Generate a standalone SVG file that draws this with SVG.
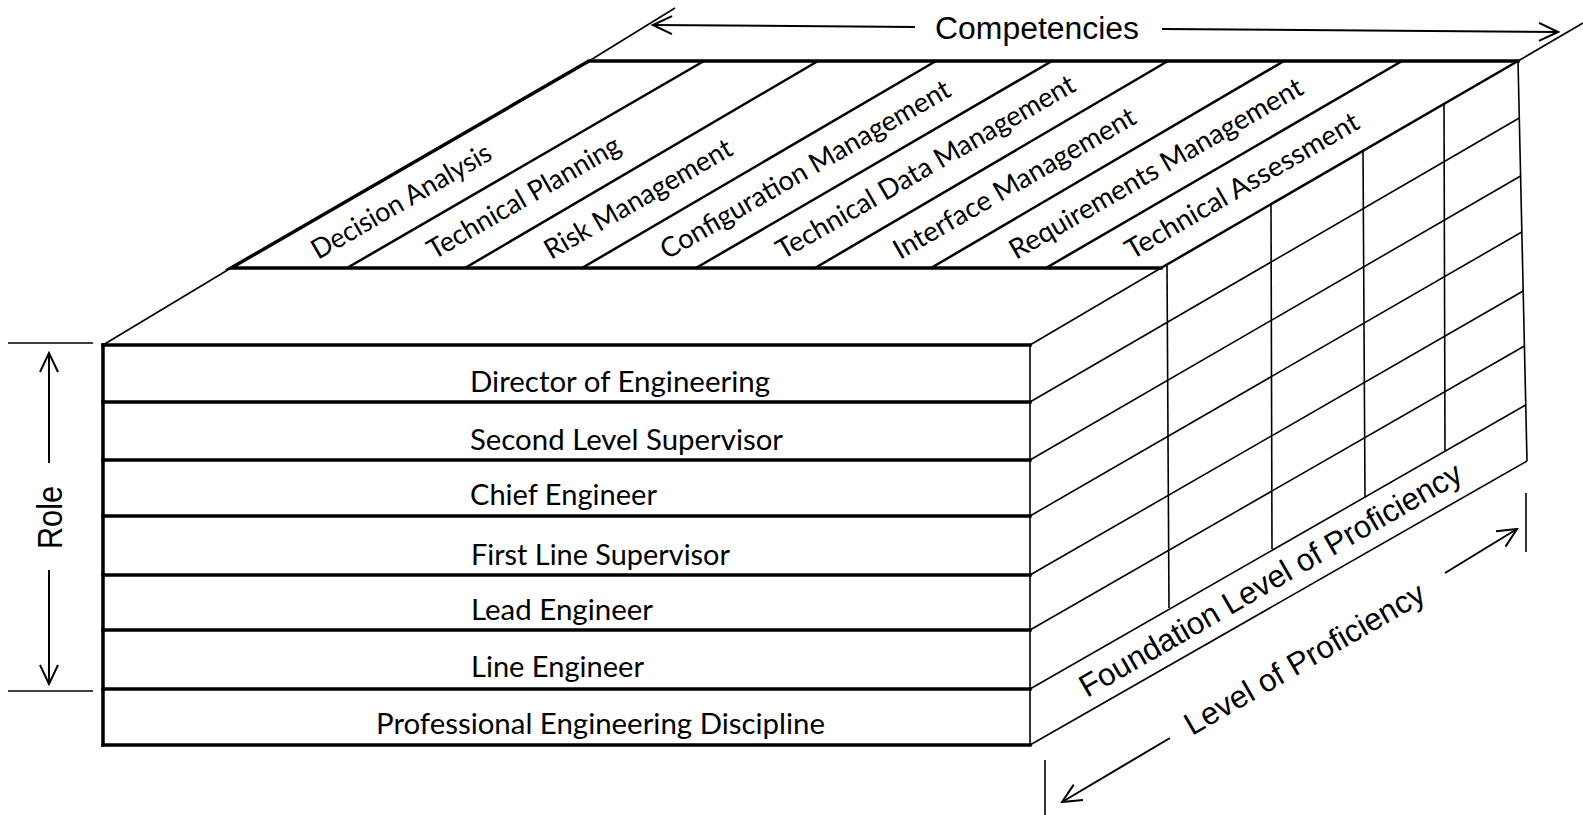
<svg xmlns="http://www.w3.org/2000/svg" width="1583" height="815" viewBox="0 0 1583 815">
<style>
.thick{stroke:#000;stroke-width:3.5;fill:none;stroke-linecap:square}
.sep{stroke:#000;stroke-width:2.5;fill:none}
.thin{stroke:#000;stroke-width:1.6;fill:none}
.arr{stroke:#000;stroke-width:2;fill:none;marker-end:url(#vhead)}
.cal{font-family:Lato,"Open Sans","Liberation Sans",sans-serif;fill:#000}
.row{font-size:29.5px}
.comp{font-size:27.5px}
.ari{font-family:"Liberation Sans",Arial,sans-serif;fill:#000}
</style>
<defs>
<marker id="vhead" markerUnits="userSpaceOnUse" viewBox="-22 -11 24 22" refX="0" refY="0" markerWidth="24" markerHeight="22" orient="auto">
<path d="M-19,-9 L0,0 L-19,9" fill="none" stroke="#000" stroke-width="2"/>
</marker>
</defs>
<rect width="1583" height="815" fill="#fff"/>

<g id="right-face">
<line class="thin" x1="1030" y1="345" x2="1030" y2="745"/>
<line class="thin" x1="1030" y1="345" x2="1161" y2="268"/>
<line class="thin" x1="1030" y1="402" x2="1519.3" y2="118"/>
<line class="thin" x1="1030" y1="460" x2="1520.6" y2="176"/>
<line class="thin" x1="1030" y1="516" x2="1521.8" y2="232"/>
<line class="thin" x1="1030" y1="575" x2="1523.2" y2="291"/>
<line class="thin" x1="1030" y1="630" x2="1524.4" y2="346"/>
<line class="thin" x1="1030" y1="689" x2="1525.7" y2="405"/>
<line class="thin" x1="1030" y1="745" x2="1527" y2="461"/>
<line class="thin" x1="1518" y1="61" x2="1527" y2="461"/>
<line class="thin" x1="1167" y1="265" x2="1169" y2="608"/>
<line class="thin" x1="1271" y1="205" x2="1272" y2="549"/>
<line class="thin" x1="1363" y1="151" x2="1365" y2="497"/>
<line class="thin" x1="1444" y1="104" x2="1445" y2="451"/>
</g>

<g id="top-plane">
<line class="thin" x1="103" y1="345" x2="231" y2="268"/>
<line class="thin" x1="589" y1="61" x2="675" y2="8"/>
<line class="thin" x1="1518" y1="61" x2="1583" y2="23"/>
<line class="sep" x1="347" y1="268" x2="704" y2="61"/>
<line class="sep" x1="465" y1="268" x2="818" y2="61"/>
<line class="sep" x1="582" y1="268" x2="936" y2="61"/>
<line class="sep" x1="696" y1="268" x2="1052" y2="61"/>
<line class="sep" x1="815" y1="268" x2="1168" y2="61"/>
<line class="sep" x1="931" y1="268" x2="1284" y2="61"/>
<line class="sep" x1="1046" y1="268" x2="1402" y2="61"/>
<line class="sep" x1="1161" y1="268" x2="1518" y2="61"/>
<path class="thick" d="M1161,268 H231 L589,61 H1518"/>
</g>

<g id="competency-labels" class="cal comp">
<text id="c1" transform="translate(318,260) rotate(-30)" textLength="203" lengthAdjust="spacingAndGlyphs">Decision Analysis</text>
<text id="c2" transform="translate(434,260) rotate(-30)" textLength="218" lengthAdjust="spacingAndGlyphs">Technical Planning</text>
<text id="c3" transform="translate(551,260) rotate(-30)" textLength="212" lengthAdjust="spacingAndGlyphs">Risk Management</text>
<text id="c4" transform="translate(667,260) rotate(-30)" textLength="330" lengthAdjust="spacingAndGlyphs">Configuration Management</text>
<text id="c5" transform="translate(783,260) rotate(-30)" textLength="340" lengthAdjust="spacingAndGlyphs">Technical Data Management</text>
<text id="c6" transform="translate(900,260) rotate(-30)" textLength="275" lengthAdjust="spacingAndGlyphs">Interface Management</text>
<text id="c7" transform="translate(1016,260) rotate(-30)" textLength="334" lengthAdjust="spacingAndGlyphs">Requirements Management</text>
<text id="c8" transform="translate(1132,260) rotate(-30)" textLength="265" lengthAdjust="spacingAndGlyphs">Technical Assessment</text>
</g>

<g id="front-face">
<path class="thick" d="M103,345 V745"/>
<line class="thick" x1="103" y1="345" x2="1030" y2="345"/>
<line class="thick" x1="103" y1="402" x2="1030" y2="402"/>
<line class="thick" x1="103" y1="460" x2="1030" y2="460"/>
<line class="thick" x1="103" y1="516" x2="1030" y2="516"/>
<line class="thick" x1="103" y1="575" x2="1030" y2="575"/>
<line class="thick" x1="103" y1="630" x2="1030" y2="630"/>
<line class="thick" x1="103" y1="689" x2="1030" y2="689"/>
<line class="thick" x1="103" y1="745" x2="1030" y2="745"/>
</g>

<g id="row-director"><text class="cal row" x="470" y="392" textLength="300" lengthAdjust="spacingAndGlyphs">Director of Engineering</text></g>
<g id="row-second"><text class="cal row" x="470" y="450" textLength="313" lengthAdjust="spacingAndGlyphs">Second Level Supervisor</text></g>
<g id="row-chief"><text class="cal row" x="470" y="505" textLength="187" lengthAdjust="spacingAndGlyphs">Chief Engineer</text></g>
<g id="row-first"><text class="cal row" x="471" y="565" textLength="259" lengthAdjust="spacingAndGlyphs">First Line Supervisor</text></g>
<g id="row-lead"><text class="cal row" x="471" y="620" textLength="182" lengthAdjust="spacingAndGlyphs">Lead Engineer</text></g>
<g id="row-line"><text class="cal row" x="471" y="677" textLength="173" lengthAdjust="spacingAndGlyphs">Line Engineer</text></g>
<g id="row-professional"><text class="cal row" x="376" y="734" textLength="449" lengthAdjust="spacingAndGlyphs">Professional Engineering Discipline</text></g>

<g id="axis-labels" class="ari">
<text id="competencies" x="935" y="39" font-size="31" textLength="204" lengthAdjust="spacingAndGlyphs">Competencies</text>
<text id="role" transform="translate(62,549) rotate(-90)" font-size="35" textLength="63" lengthAdjust="spacingAndGlyphs">Role</text>
<text id="foundation" transform="translate(1087,698) rotate(-30)" font-size="31.5" textLength="436" lengthAdjust="spacingAndGlyphs">Foundation Level of Proficiency</text>
<text id="level" transform="translate(1192,736) rotate(-30)" font-size="31.5" textLength="272" lengthAdjust="spacingAndGlyphs">Level of Proficiency</text>
</g>

<g id="connectors">
<line class="thin" x1="8" y1="343" x2="93" y2="343"/>
<line class="thin" x1="8" y1="691" x2="93" y2="691"/>
<line class="thin" x1="1045" y1="760" x2="1045" y2="815"/>
<line class="thin" x1="1526" y1="493" x2="1526" y2="552"/>
<line class="arr" x1="915" y1="27" x2="653" y2="25"/>
<line class="arr" x1="1162" y1="29" x2="1558" y2="32"/>
<line class="arr" x1="49" y1="463" x2="49" y2="353"/>
<line class="arr" x1="49" y1="570" x2="49" y2="684"/>
<line class="arr" x1="1170" y1="738" x2="1062" y2="802"/>
<line class="arr" x1="1445" y1="573" x2="1517" y2="529"/>
</g>
</svg>
